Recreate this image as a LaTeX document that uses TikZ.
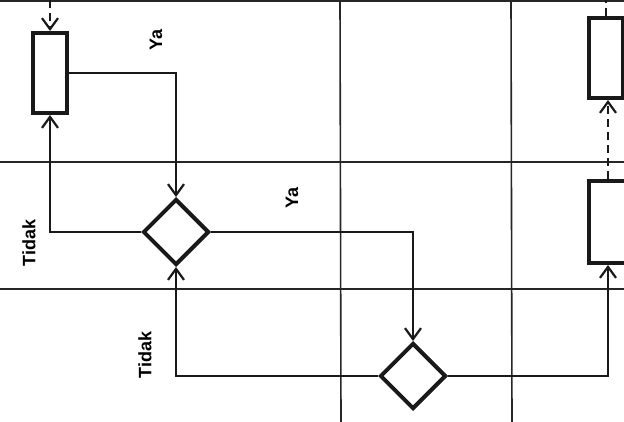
\documentclass[tikz,border=0pt]{standalone}
\usepackage{fontspec}
\setmainfont{Liberation Sans}
\usetikzlibrary{shapes.geometric,arrows.meta}
\tikzset{
  grid/.style={line width=1.6pt,black!85},
  procbox/.style={draw=black!90,line width=4pt,rectangle,inner sep=0pt},
  decbox/.style={draw=black!90,line width=4pt,diamond,aspect=1,inner sep=0pt,minimum width=66pt,minimum height=66pt},
  conn/.style={line width=2pt,black!90,-{Straight Barb[length=11pt,width=16pt,line width=2.2pt]}},
  dconn/.style={conn,line width=2.4pt,dash pattern=on 8pt off 5pt},
  lbl/.style={font=\fontsize{18}{20}\selectfont\bfseries,rotate=90,inner sep=0pt}
}
\begin{document}
\begin{tikzpicture}[x=1pt,y=-1pt]
\clip (0,0) rectangle (624,422);
\fill[white] (0,0) rectangle (624,422);
% lane grid
\draw[grid] (0,1) -- (624,1);
\draw[grid] (0,162) -- (624,162);
\draw[grid] (0,289) -- (624,289);
\draw[grid] (340,0) -- (341,422);
\draw[grid] (511,0) -- (512,422);
% shapes
\node[procbox,minimum width=34pt,minimum height=80pt] (r1) at (50,73) {};
\node[decbox] (d1) at (176,232) {};
\node[decbox] (d2) at (413,376) {};
\node[procbox,minimum width=34pt,minimum height=80pt] (r2) at (606,58) {};
\node[procbox,minimum width=38pt,minimum height=82pt] (r3) at (608,222) {};
% free ends
\coordinate (t1) at (50,0);
\coordinate (t2) at (606,0);
% connectors
\draw[dconn] (t1) -- (r1.north);
\draw[conn] (r1.east) -| (d1.north);
\draw[conn] (d1.west) -| (r1.south);
\draw[conn] (d1.east) -| (d2.north);
\draw[conn] (d2.west) -| (d1.south);
\draw[conn] (d2.east) -| (r3.south);
\draw[dconn] (r3.north) -- (r3.north |- r2.south);
\draw[line width=2.4pt,black!90,dash pattern=on 8pt off 5pt] (r2.north) -- (t2);
% labels
\node[lbl] (ya1) at (156,40) {Ya};
\node[lbl] (ya2) at (292,198) {Ya};
\node[lbl] (td1) at (29,243) {Tidak};
\node[lbl] (td2) at (145,355) {Tidak};
\end{tikzpicture}
\end{document}
